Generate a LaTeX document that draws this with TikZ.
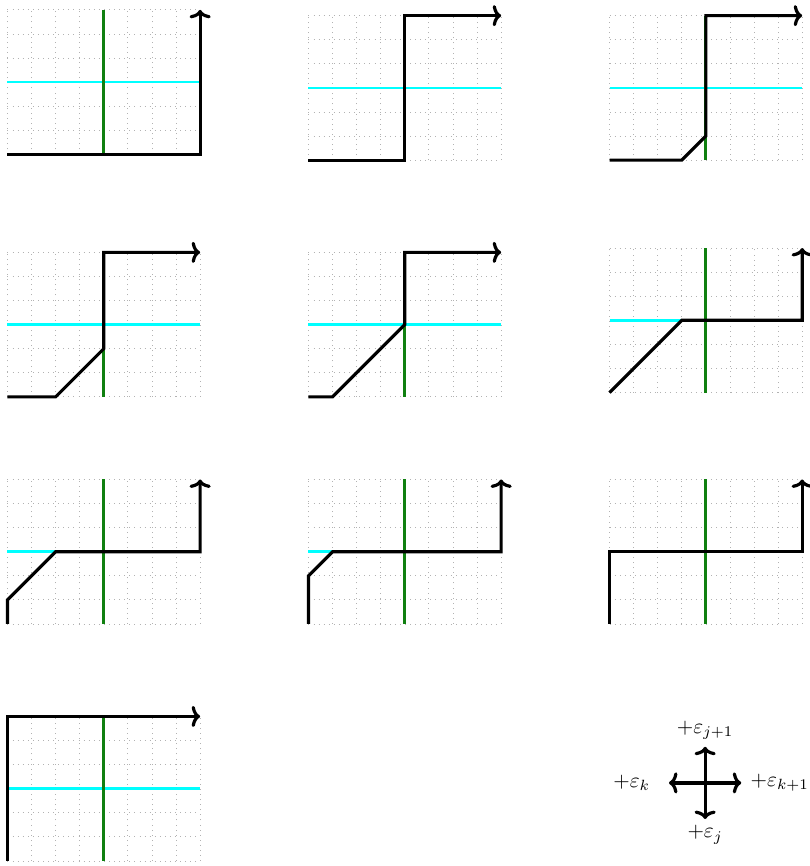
\documentclass[tikz,border=0pt]{standalone}
\usetikzlibrary{arrows.meta}
\definecolor{aqua}{RGB}{0,255,255}
\definecolor{leaf}{RGB}{16,128,16}
\tikzset{
	>={To[length=4pt,width=10pt]},
	gridline/.style={gray!60, dotted, thin, step=1},
	hline/.style={aqua, line width=1.2pt},
	vline/.style={leaf, line width=1.4pt},
	walk/.style={black, line width=1.5pt, line join=miter},
}
\newcommand{\latticebg}{%
	\draw[gridline] (0,0) grid (8,6);
	\draw[hline] (0,3) -- (8,3);
	\draw[vline] (4,0) -- (4,6);
}
\begin{document}
\begin{tikzpicture}[x=0.4cm, y=0.4cm]
	\useasboundingbox (0,0) rectangle (33.6,35.96);
	% first row
	\begin{scope}[shift={(0.31,29.55)}]
		\latticebg
		\draw[walk, ->] (0,0) -- (8,0) -- (8,6);
	\end{scope}
	\begin{scope}[shift={(12.81,29.31)}]
		\latticebg
		\draw[walk, ->] (0,0) -- (4,0) -- (4,6) -- (8,6);
	\end{scope}
	\begin{scope}[shift={(25.31,29.31)}]
		\latticebg
		\draw[walk, ->] (0,0) -- (3,0) -- (4,1) -- (4,6) -- (8,6);
	\end{scope}
	% second row
	\begin{scope}[shift={(0.31,19.48)}]
		\latticebg
		\draw[walk, ->] (0,0) -- (2,0) -- (4,2) -- (4,6) -- (8,6);
	\end{scope}
	\begin{scope}[shift={(12.81,19.48)}]
		\latticebg
		\draw[walk, ->] (0,0) -- (1,0) -- (4,3) -- (4,6) -- (8,6);
	\end{scope}
	\begin{scope}[shift={(25.31,19.66)}]
		\latticebg
		\draw[walk, ->] (0,0) -- (3,3) -- (8,3) -- (8,6);
	\end{scope}
	% third row
	\begin{scope}[shift={(0.31,10.05)}]
		\latticebg
		\draw[walk, ->] (0,0) -- (0,1) -- (2,3) -- (8,3) -- (8,6);
	\end{scope}
	\begin{scope}[shift={(12.81,10.05)}]
		\latticebg
		\draw[walk, ->] (0,0) -- (0,2) -- (1,3) -- (8,3) -- (8,6);
	\end{scope}
	\begin{scope}[shift={(25.31,10.05)}]
		\latticebg
		\draw[walk, ->] (0,0) -- (0,3) -- (8,3) -- (8,6);
	\end{scope}
	% fourth row
	\begin{scope}[shift={(0.31,0.21)}]
		\latticebg
		\draw[walk, ->] (0,0) -- (0,6) -- (8,6);
	\end{scope}
	% steps
	\begin{scope}[shift={(29.28,3.45)}]
		\coordinate (ek) at (-1.5,0);
		\coordinate (ek1) at (1.5,0);
		\coordinate (ej) at (0,-1.5);
		\coordinate (ej1) at (0,1.5);
		\draw[walk, <->] (ek) -- (ek1);
		\draw[walk, <->] (ej) -- (ej1);
		\node (lk) at (-3.05,0) {$+\varepsilon_k$};
		\node (lk1) at (3.1,0) {$+\varepsilon_{k+1}$};
		\node (lj1) at (0,2.2) {$+\varepsilon_{j+1}$};
		\node (lj) at (0,-2.15) {$+\varepsilon_j$};
	\end{scope}
\end{tikzpicture}
\end{document}
